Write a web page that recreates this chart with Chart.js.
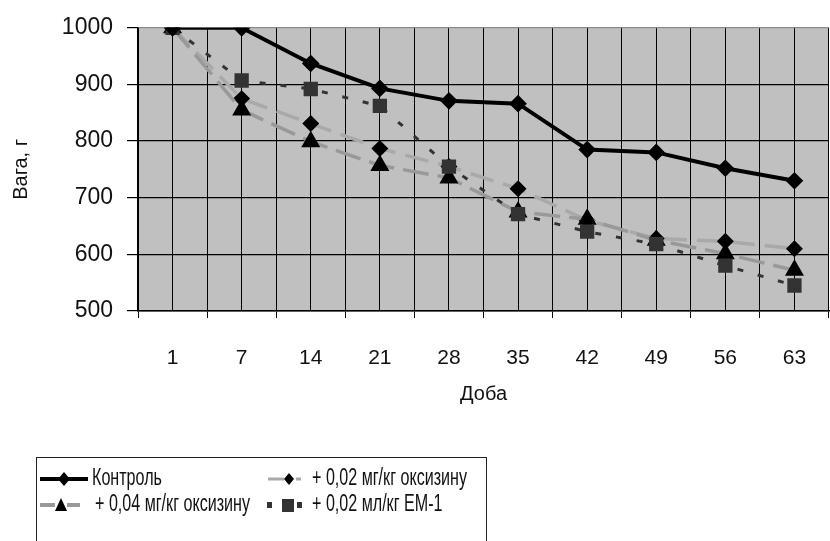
<!DOCTYPE html>
<html>
<head>
<meta charset="utf-8">
<script src="https://cdn.jsdelivr.net/npm/chart.js@4.4.1/dist/chart.umd.min.js"></script>
<style>
  html, body { margin: 0; padding: 0; background: #fff; overflow: hidden; width: 830px; height: 541px; }
  #wrap { position: absolute; left: 0; top: 0; width: 840px; height: 541px; }
  #legend { position: absolute; left: 36px; top: 457px; width: 451px; height: 100px;
    border: 1.5px solid #222; box-sizing: border-box; font-family: "Liberation Sans", Arial, sans-serif;
    font-size: 23px; color: #111; }
  .sym { position: absolute; display: block; }
  .txt { position: absolute; white-space: nowrap; transform-origin: 0 50%; transform: scaleX(0.7); line-height: 26px; }
</style>
</head>
<body>
<div id="wrap"><canvas id="c"></canvas></div>
<div id="legend"></div>
<script>
// ---- data ----
const days = ['1', '7', '14', '21', '28', '35', '42', '49', '56', '63'];
const control = [1000, 1000, 937, 893, 871, 866, 785, 780, 752, 730];
const oxy002 = [1000, 875, 831, 787, 755, 716, 660, 628, 623, 610];
const oxy004 = [1000, 855, 799, 757, 735, 675, 662, 625, 601, 572];
const em1 = [1000, 907, 892, 862, 755, 671, 640, 618, 580, 545];
const seriesNames = ['Контроль', '+ 0,02 мг/кг оксизину', '+ 0,04 мг/кг оксизину', '+ 0,02 мл/кг ЕМ-1'];
const yTicks = [500, 600, 700, 800, 900, 1000];
const xTitle = 'Доба';
const yTitle = 'Вага, г';

const regular = '"Liberation Sans", Arial, sans-serif';

const plotBg = {
  id: 'plotBg',
  beforeDraw(chart) {
    const a = chart.chartArea, ctx = chart.ctx;
    ctx.save();
    ctx.fillStyle = '#c0c0c0';
    ctx.fillRect(a.left, a.top, a.right - a.left, a.bottom - a.top);
    ctx.restore();
  }
};

new Chart(document.getElementById('c'), {
  type: 'line',
  data: {
    labels: days,
    datasets: [
      { label: seriesNames[0], data: control, borderColor: '#000', borderWidth: 4,
        pointStyle: 'rectRot', pointRadius: 6, pointBackgroundColor: '#000', pointBorderColor: '#000', order: 0 },
      { label: seriesNames[1], data: oxy002, borderColor: '#a9a9a9', borderWidth: 3.5, borderDash: [24, 10],
        pointStyle: 'rectRot', pointRadius: 6, pointBackgroundColor: '#000', pointBorderColor: '#000', order: 3 },
      { label: seriesNames[2], data: oxy004, borderColor: '#999', borderWidth: 3.5, borderDash: [26, 9],
        pointStyle: 'triangle', pointRadius: 7.5, pointBackgroundColor: '#000', pointBorderColor: '#000', order: 2 },
      { label: seriesNames[3], data: em1, borderColor: '#333', borderWidth: 3, borderDash: [6, 15],
        pointStyle: 'rect', pointRadius: 8, pointBackgroundColor: '#333', pointBorderColor: '#333', order: 1 }
    ]
  },
  options: {
    responsive: true,
    maintainAspectRatio: false,
    animation: false,
    layout: { padding: { top: 8, right: 3, bottom: 130, left: 0 } },
    plugins: { legend: { display: false }, tooltip: { enabled: false } },
    elements: { line: { tension: 0, fill: false }, point: { borderWidth: 1 } },
    scales: {
      x: {
        type: 'category', position: 'bottom', offset: true,
        grid: { offset: true, color: '#000', lineWidth: 1, tickLength: 7, tickColor: '#000' },
        border: { display: true, color: '#000', width: 1.5 },
        ticks: { color: '#111', padding: 28, font: { family: regular, size: 21 }, maxRotation: 0, autoSkip: false },
        title: { display: true, text: xTitle, color: '#111', font: { family: regular, size: 20 }, padding: { top: 0, bottom: 5 } },
        afterFit(s) { s.height = 100; }
      },
      x2: {
        type: 'category', position: 'top', offset: true, labels: days,
        grid: { offset: false, color: '#000', lineWidth: 1, drawTicks: false },
        border: { display: false },
        ticks: { display: false }
      },
      y: {
        min: 500, max: 1000,
        afterBuildTicks(s) { s.ticks = yTicks.map(v => ({ value: v })); },
        grid: { color: (c) => (c.tick && c.tick.value === 1000 ? '#8a8a8a' : '#000'), lineWidth: 1.2,
                tickLength: 11, tickColor: '#000' },
        border: { display: true, color: '#000', width: 1.5 },
        ticks: { color: '#111', padding: 14, font: { family: regular, size: 23 }, callback: (v) => String(v) },
        title: { display: true, text: yTitle, color: '#111', font: { family: regular, size: 20 }, padding: { top: 9, bottom: 0 } },
        afterFit(s) { s.width = 138; }
      }
    }
  },
  plugins: [plotBg]
});

// ---- HTML legend ----
const lg = document.getElementById('legend');
function sym(kind) {
  const w = 50, h = 20, m = 10;
  if (kind === 0) return `<svg width="${w}" height="${h}"><line x1="2" y1="${m}" x2="50" y2="${m}" stroke="#000" stroke-width="4"/><polygon points="26,${m-7} 32,${m} 26,${m+7} 20,${m}" fill="#000"/></svg>`;
  if (kind === 1) return `<svg width="${w}" height="${h}"><line x1="2" y1="${m}" x2="18" y2="${m}" stroke="#a9a9a9" stroke-width="3"/><polygon points="23,${m-6} 28,${m} 23,${m+6} 18,${m}" fill="#000"/><line x1="30" y1="${m}" x2="35" y2="${m}" stroke="#a9a9a9" stroke-width="3"/></svg>`;
  if (kind === 2) return `<svg width="${w}" height="${h}"><line x1="2" y1="${m}" x2="17" y2="${m}" stroke="#999" stroke-width="4"/><polygon points="23,${m-7} 29,${m+6} 17,${m+6}" fill="#000"/><line x1="29" y1="${m}" x2="42" y2="${m}" stroke="#999" stroke-width="4"/></svg>`;
  return `<svg width="${w}" height="${h}"><rect x="1" y="${m-3}" width="5" height="6" fill="#333"/><rect x="16" y="${m-6}" width="12" height="13" fill="#333"/><rect x="31" y="${m-3}" width="5" height="6" fill="#333"/></svg>`;
}
// [symbol left, row center, text left] relative to legend box
const pos = [[1, 20, 55], [229, 20, 275], [1, 46, 58], [229, 46, 275]];
seriesNames.forEach((n, i) => {
  const s = document.createElement('div');
  s.className = 'sym';
  s.style.left = pos[i][0] + 'px';
  s.style.top = (pos[i][1] - 10) + 'px';
  s.innerHTML = sym(i);
  lg.appendChild(s);
  const t = document.createElement('span');
  t.className = 'txt';
  t.textContent = n;
  t.style.left = pos[i][2] + 'px';
  t.style.top = (pos[i][1] - 14) + 'px';
  lg.appendChild(t);
});
</script>
</body>
</html>
